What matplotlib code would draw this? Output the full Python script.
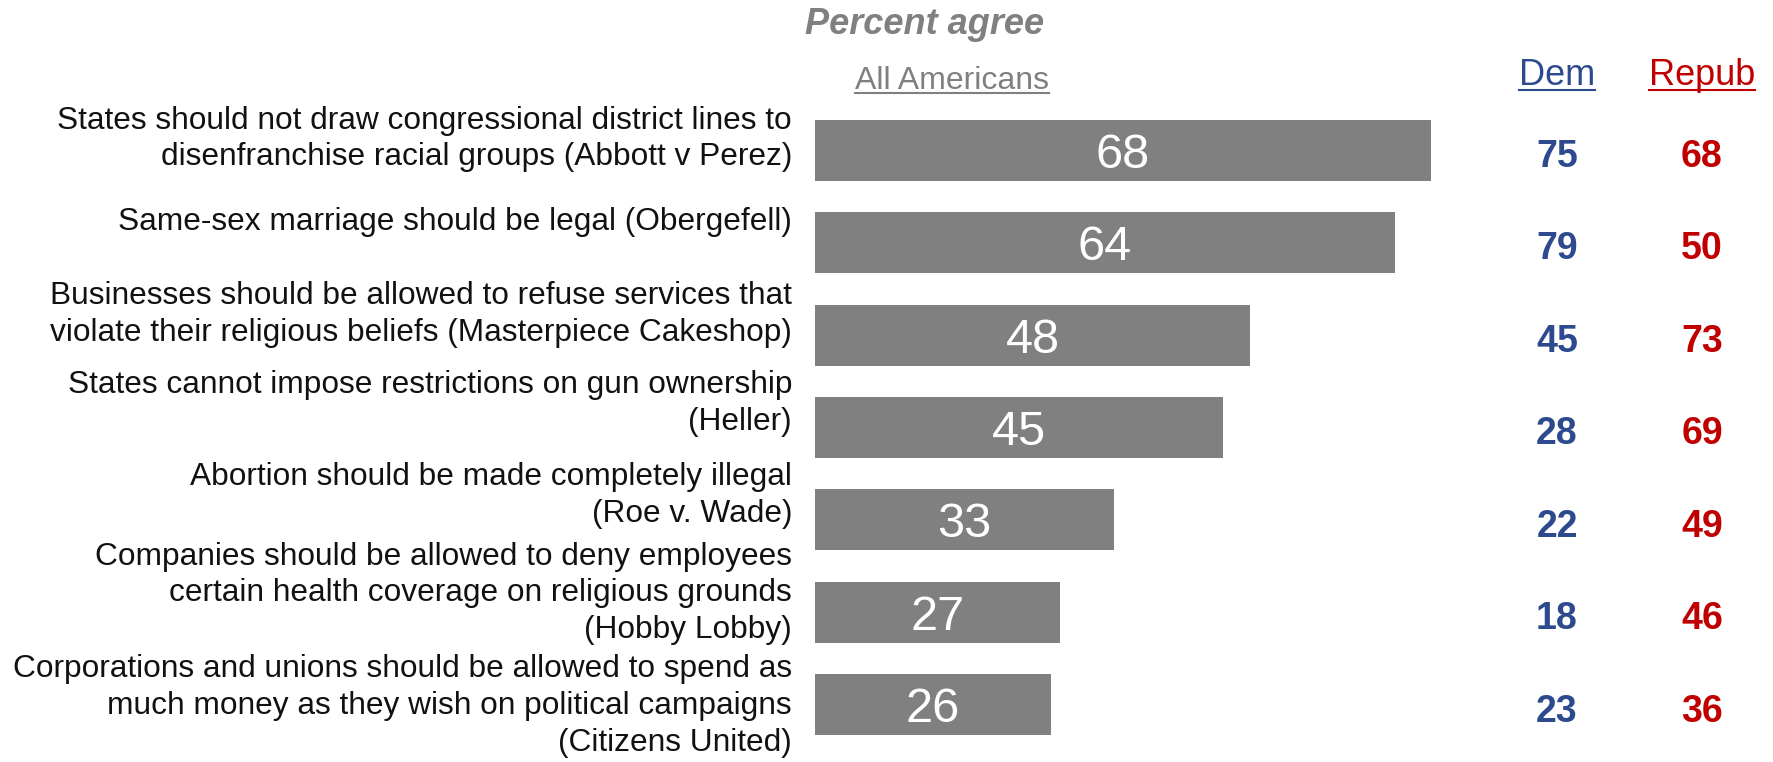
import matplotlib
matplotlib.use("Agg")
import matplotlib.pyplot as plt
import matplotlib.transforms as mtransforms
from matplotlib.lines import Line2D

plt.rcParams['font.family'] = ['Liberation Sans', 'DejaVu Sans']

labels = [
    "States should not draw congressional district lines to\ndisenfranchise racial groups (Abbott v Perez)",
    "Same-sex marriage should be legal (Obergefell)",
    "Businesses should be allowed to refuse services that\nviolate their religious beliefs (Masterpiece Cakeshop)",
    "States cannot impose restrictions on gun ownership\n(Heller)",
    "Abortion should be made completely illegal\n(Roe v. Wade)",
    "Companies should be allowed to deny employees\ncertain health coverage on religious grounds\n(Hobby Lobby)",
    "Corporations and unions should be allowed to spend as\nmuch money as they wish on political campaigns\n(Citizens United)",
]
all_americans = [68, 64, 48, 45, 33, 27, 26]
dem = [75, 79, 45, 28, 22, 18, 23]
repub = [68, 50, 73, 69, 49, 46, 36]

# where the last text line's baseline sits, relative to the bar centre (rows)
label_shift = [0.165, -0.135, 0.067, 0.030, 0.026, 0.281, 0.50]

grey = '#808080'
blue = '#2E4A8E'
red = '#C00000'

fig = plt.figure(figsize=(17.73, 7.62), dpi=100)
ax = fig.add_axes([815 / 1773, 11 / 762, 906 / 1773, 647 / 762])

rows = list(range(len(labels)))
ax.barh(rows, all_americans, height=0.66, color=grey)
ax.set_xlim(0, 100)
ax.set_ylim(6.5, -0.5)
ax.axis('off')

for r, v in zip(rows, all_americans):
    ax.text(v / 2, r, str(v), ha='center', va='center_baseline',
            color='white', fontsize=35)

trans = mtransforms.blended_transform_factory(fig.transFigure, ax.transData)
for r, lab, sh in zip(rows, labels, label_shift):
    ax.text(792 / 1773, r + sh, lab, transform=trans, ha='right', va='baseline',
            fontsize=22.8, color='#111111', linespacing=1.3)

for r, d, p in zip(rows, dem, repub):
    ax.text(1557 / 1773, r + 0.03, str(d), transform=trans, ha='center',
            va='center_baseline', fontsize=27, fontweight='bold', color=blue)
    ax.text(1702 / 1773, r + 0.03, str(p), transform=trans, ha='center',
            va='center_baseline', fontsize=27, fontweight='bold', color=red)

fig.text(925 / 1773, 1 - 34 / 762, 'Percent agree', ha='center', va='baseline',
         fontsize=26, fontweight='bold', fontstyle='italic', color=grey)
heads = [
    fig.text(952 / 1773, 1 - 89 / 762, 'All Americans', ha='center', va='baseline',
             fontsize=23, color=grey),
    fig.text(1557 / 1773, 1 - 85 / 762, 'Dem', ha='center', va='baseline',
             fontsize=26, color=blue),
    fig.text(1702 / 1773, 1 - 85 / 762, 'Repub', ha='center', va='baseline',
             fontsize=26, color=red),
]

# underline the column headers
fig.canvas.draw()
renderer = fig.canvas.get_renderer()
inv = fig.transFigure.inverted()
for t in heads:
    bb = t.get_window_extent(renderer)
    (x0, y0), (x1, _) = inv.transform([(bb.x0, bb.y0 + 3), (bb.x1, bb.y0 + 3)])
    fig.add_artist(Line2D([x0, x1], [y0, y0], transform=fig.transFigure,
                          color=t.get_color(), lw=1.5))

fig.savefig('out.png', dpi=100)
